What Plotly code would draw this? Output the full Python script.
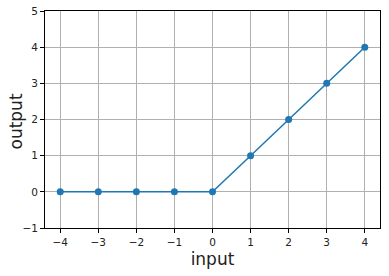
import numpy as np
import plotly.graph_objects as go

x_vals = [-4, -3, -2, -1, 0, 1, 2, 3, 4]
y_vals = [0, 0, 0, 0, 0, 1, 2, 3, 4]
x_ticks = [-4, -3, -2, -1, 0, 1, 2, 3, 4]
y_ticks = [-1, 0, 1, 2, 3, 4, 5]

fig = go.Figure()
fig.add_trace(go.Scatter(
    x=x_vals, y=y_vals, mode="lines+markers",
    line=dict(color="#1f77b4", width=1.5),
    marker=dict(color="#1f77b4", size=7),
    showlegend=False,
))

axis_common = dict(
    showline=True, linecolor="black", linewidth=1, mirror=True,
    showgrid=True, gridcolor="#b0b0b0", gridwidth=1,
    ticks="outside", ticklen=4, tickcolor="black", tickwidth=1,
    zeroline=False, automargin=False,
    tickfont=dict(family="DejaVu Sans", size=10.5, color="#222222"),
)

fig.update_xaxes(range=[-4.4, 4.4], tickvals=x_ticks,
                 title=dict(text="input", font=dict(family="DejaVu Sans", size=17, color="#222222"), standoff=6),
                 **axis_common)
fig.update_yaxes(range=[-1, 5], tickvals=y_ticks, **axis_common)

fig.add_annotation(
    text="output", textangle=-90, showarrow=False,
    xref="paper", yref="paper", x=-0.087, y=0.49,
    xanchor="center", yanchor="middle",
    font=dict(family="DejaVu Sans", size=17, color="#222222"),
)

fig.update_layout(
    width=389, height=276,
    margin=dict(l=45, r=9, t=11, b=48),
    paper_bgcolor="white", plot_bgcolor="white",
)

fig.write_html("out.html")
